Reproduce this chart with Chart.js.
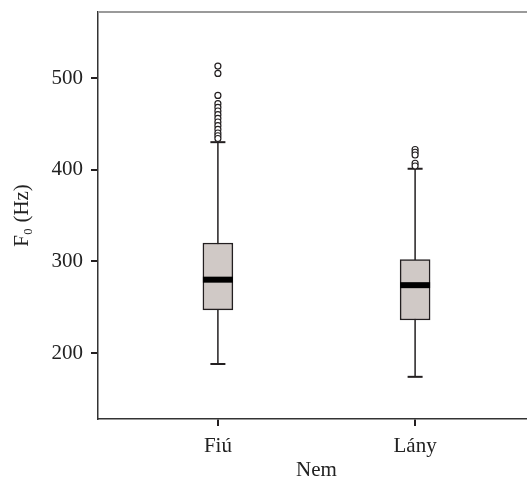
<!DOCTYPE html>
<html>
<head>
<meta charset="utf-8">
<script src="https://cdn.jsdelivr.net/npm/chart.js@4.4.0/dist/chart.umd.min.js"></script>
<style>
html, body { margin: 0; padding: 0; background: #fff; overflow: hidden; }
</style>
</head>
<body>
<canvas id="boxChart" width="540" height="485"></canvas>
<script>
// Box plot values
const categories = ['Fiú', 'Lány'];
const whiskerLow = [188, 174];
const q1 = [247, 236];
const medians = [280, 274];
const q3 = [320, 302];
const whiskerHigh = [430, 401];
const outliers = [
    [513, 505, 481, 472, 468, 464, 460, 456, 452, 448, 444, 440, 437, 434],
    [422, 419, 416, 407, 404]
];
const yTicks = [200, 300, 400, 500];

const fontFamily = "'Liberation Serif', 'Times New Roman', serif";
const fontSize = 21;
const ink = '#231f20';

// top frame line (the chart has no right edge in view)
const topBorder = {
    id: 'topBorder',
    afterDraw(chart) {
        const { ctx, chartArea } = chart;
        ctx.save();
        ctx.strokeStyle = '#9a9a9a';
        ctx.lineWidth = 2;
        ctx.beginPath();
        ctx.moveTo(chartArea.left, chartArea.top);
        ctx.lineTo(chartArea.right, chartArea.top);
        ctx.stroke();
        ctx.restore();
    }
};

const datasets = [];

// whiskers: one vertical line per group, the box covers the middle part
categories.forEach((c, i) => {
    datasets.push({
        type: 'line',
        data: [{ x: i + 1, y: whiskerLow[i] }, { x: i + 1, y: whiskerHigh[i] }],
        borderColor: ink,
        borderWidth: 1.5,
        pointRadius: 0,
        order: 4
    });
});

// whisker caps
datasets.push({
    type: 'scatter',
    data: categories.flatMap((c, i) => [
        { x: i + 1, y: whiskerLow[i] },
        { x: i + 1, y: whiskerHigh[i] }
    ]),
    pointStyle: 'line',
    pointRadius: 7.5,
    borderColor: ink,
    borderWidth: 2,
    order: 3
});

// boxes as floating bars
datasets.push({
    type: 'bar',
    data: categories.map((c, i) => ({ x: i + 1, y: [q1[i], q3[i]] })),
    barThickness: 30,
    backgroundColor: '#d0c9c6',
    borderColor: ink,
    borderWidth: 1.5,
    borderSkipped: false,
    order: 2
});

// outliers
datasets.push({
    type: 'scatter',
    data: categories.flatMap((c, i) => outliers[i].map(v => ({ x: i + 1, y: v }))),
    pointStyle: 'circle',
    pointRadius: 3,
    backgroundColor: '#fff',
    borderColor: ink,
    borderWidth: 1.2,
    order: 1
});

// medians
datasets.push({
    type: 'scatter',
    data: categories.map((c, i) => ({ x: i + 1, y: medians[i] })),
    pointStyle: 'line',
    pointRadius: 15,
    borderColor: '#000',
    borderWidth: 6,
    order: 0
});

new Chart(document.getElementById('boxChart'), {
    type: 'bar',
    data: { datasets: datasets },
    options: {
        responsive: false,
        animation: false,
        events: [],
        layout: { autoPadding: false, padding: { left: 0, top: 12, right: 5, bottom: 0 } },
        plugins: {
            legend: { display: false },
            tooltip: { enabled: false }
        },
        scales: {
            x: {
                type: 'linear',
                offset: false,
                min: 0.392,
                max: 2.608,
                afterFit: s => { s.height = 66; s.paddingLeft = 0; s.paddingRight = 0; },
                afterBuildTicks: s => { s.ticks = categories.map((c, i) => ({ value: i + 1 })); },
                grid: { offset: false, drawOnChartArea: false, tickLength: 7, color: ink, lineWidth: 2 },
                border: { color: '#333', width: 1.5 },
                ticks: {
                    callback: v => categories[v - 1],
                    padding: 8,
                    color: '#222',
                    font: { family: fontFamily, size: fontSize }
                },
                title: {
                    display: true,
                    text: 'Nem',
                    color: '#222',
                    padding: { top: 0, bottom: 2.4 },
                    font: { family: fontFamily, size: fontSize }
                }
            },
            y: {
                min: 128,
                max: 572,
                afterFit: s => { s.width = 98; s.paddingTop = 0; s.paddingBottom = 0; },
                afterBuildTicks: s => { s.ticks = yTicks.map(v => ({ value: v })); },
                grid: { drawOnChartArea: false, tickLength: 7, color: ink, lineWidth: 2 },
                border: { color: '#333', width: 1.5 },
                ticks: {
                    padding: 8,
                    color: '#222',
                    font: { family: fontFamily, size: fontSize }
                },
                title: {
                    display: true,
                    text: 'F₀ (Hz)',
                    color: '#222',
                    padding: { top: 9.4, bottom: 0 },
                    font: { family: fontFamily, size: fontSize }
                }
            }
        }
    },
    plugins: [topBorder]
});
</script>
</body>
</html>
